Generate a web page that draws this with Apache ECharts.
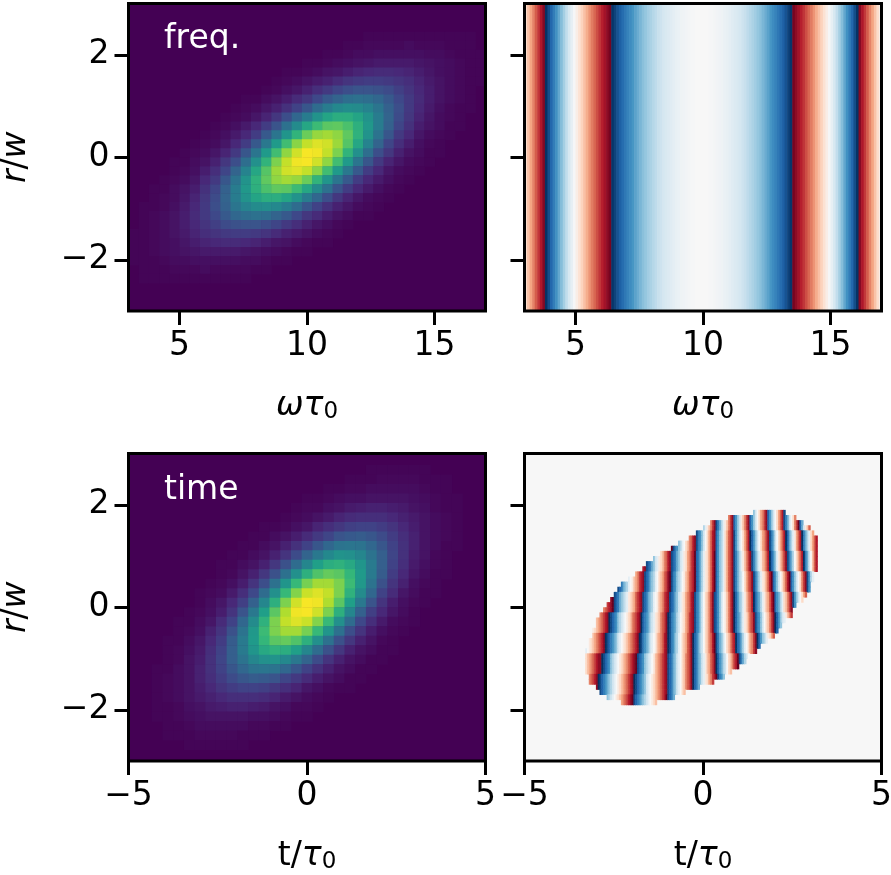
<!DOCTYPE html>
<html>
<head>
<meta charset="utf-8">
<style>html,body{margin:0;padding:0;background:#fff}#chart{width:891px;height:875px}</style>
<script src="https://cdn.jsdelivr.net/npm/echarts@6/dist/echarts.min.js"></script>
</head>
<body>
<div id="chart"></div>
<script>
// tick labels
var freqTicks = [5, 10, 15];
var timeTicks = [-5, 0, 5];
var rTicks = [-2, 0, 2];

// top left: intensity in percent, 30 rows from the top down, columns from 3.2 in steps of 0.4
var freqStart = [0,23,21,19,17,15,14,13,11,10,9,8,7,6,5,4,4,3,2,2,1,1,1,0,0,0,0,1,1,0];
var freqRows = [
[],
[1,1,1,1,1,1,1,1,1,1,1],
[1,1,2,2,2,2,3,2,2,2,1,1,1],
[1,1,2,3,3,4,4,4,4,4,3,3,2,1,1,1],
[1,1,2,3,4,5,6,7,7,7,7,6,5,4,3,2,1,1],
[1,1,2,3,5,6,8,10,11,12,12,11,10,8,6,4,3,2,1,1],
[1,2,3,5,7,9,12,15,17,18,18,17,15,13,10,7,5,3,2,1,1],
[1,2,4,6,9,13,17,21,24,26,26,25,23,19,15,11,8,5,3,2,1],
[1,1,3,5,8,12,16,22,28,32,36,37,36,33,28,22,17,12,8,5,3,2,1],
[1,2,3,6,9,14,20,27,35,42,47,49,48,45,39,31,24,17,11,7,4,2,1,1],
[1,2,3,6,10,16,24,33,42,51,58,62,62,58,51,42,32,23,16,10,6,3,2,1],
[1,2,4,7,11,18,26,37,48,59,68,74,75,71,63,53,42,31,21,14,8,5,3,1,1],
[1,2,4,7,11,18,28,39,52,65,77,84,86,83,75,64,51,38,27,17,11,6,3,2,1],
[1,2,3,6,11,18,28,40,54,69,82,91,95,93,85,73,59,45,32,21,13,8,4,2,1],
[1,2,3,6,10,17,27,39,54,69,83,93,99,98,91,80,65,50,36,24,16,9,5,3,1,1],
[1,1,3,5,9,16,24,36,50,65,80,91,98,99,93,83,69,54,39,27,17,10,6,3,2,1],
[1,2,4,8,13,21,32,45,59,73,85,93,95,91,82,69,54,40,28,18,11,6,3,2,1],
[1,2,3,6,11,17,27,38,51,64,75,83,86,84,77,65,52,39,28,18,11,7,4,2,1],
[1,1,3,5,8,14,21,31,42,53,63,71,75,74,68,59,48,37,26,18,11,7,4,2,1],
[1,2,3,6,10,16,23,32,42,51,58,62,62,58,51,42,33,24,16,10,6,3,2,1],
[1,1,2,4,7,11,17,24,31,39,45,48,49,47,42,35,27,20,14,9,6,3,2,1],
[1,2,3,5,8,12,17,22,28,33,36,37,36,32,28,22,16,12,8,5,3,1,1],
[1,2,3,5,8,11,15,19,23,25,26,26,24,21,17,13,9,6,4,2,1],
[1,1,2,3,5,7,10,13,15,17,18,18,17,15,12,9,7,5,3,2,1],
[1,1,2,3,4,6,8,10,11,12,12,11,10,8,6,5,3,2,1,1],
[1,1,2,3,4,5,6,7,7,7,7,6,5,4,3,2,1,1],
[1,1,1,2,3,3,4,4,4,4,4,3,3,2,1,1],
[1,1,1,2,2,2,3,2,2,2,2,1,1],
[1,1,1,1,1,1,1,1,1,1,1],
[]
];

// top right: spectral phase across the window, columns from 3.05 in steps of 0.1
var specPhase = [
0.18,0.29,0.40,0.50,0.61,0.71,0.81,0.92,-0.99,-0.89,-0.79,-0.70,-0.61,-0.52,-0.43,-0.34,-0.25,-0.17,-0.09,-0.01,
0.07,0.15,0.23,0.30,0.37,0.45,0.52,0.58,0.65,0.72,0.78,0.84,0.90,0.96,-0.98,-0.93,-0.87,-0.82,-0.77,-0.72,
-0.67,-0.63,-0.59,-0.54,-0.50,-0.46,-0.42,-0.39,-0.35,-0.32,-0.29,-0.26,-0.23,-0.21,-0.18,-0.16,-0.14,-0.12,-0.10,-0.08,
-0.07,-0.05,-0.04,-0.03,-0.02,-0.01,-0.01,0,0,0,0,0,-0.01,-0.01,-0.02,-0.03,-0.04,-0.05,-0.07,-0.08,
-0.10,-0.12,-0.14,-0.16,-0.18,-0.21,-0.23,-0.26,-0.29,-0.32,-0.35,-0.39,-0.42,-0.46,-0.50,-0.54,-0.59,-0.63,-0.67,-0.72,
-0.77,-0.82,-0.87,-0.93,-0.98,0.96,0.90,0.84,0.78,0.72,0.65,0.58,0.52,0.45,0.37,0.30,0.23,0.15,0.07,-0.01,
-0.09,-0.17,-0.25,-0.34,-0.43,-0.52,-0.61,-0.70,-0.79,-0.89,-0.99,0.92,0.81,0.71,0.61,0.50,0.40,0.29,0.18,0.07
];

// bottom left: intensity in percent, 30 rows from the top down, columns from -4.8 in steps of 0.3
var timeStart = [22,20,18,16,15,14,12,11,10,9,8,8,7,6,6,5,4,4,3,3,3,2,2,2,2,2,2,3,3,5];
var timeRows = [
[1,1,1,1,1,1],
[1,1,1,2,2,2,2,1,1,1],
[1,1,2,2,3,3,3,3,3,2,1,1],
[1,1,2,3,4,4,5,5,5,5,4,3,2,1,1],
[1,2,2,4,5,7,8,9,9,8,7,5,4,2,1,1],
[1,2,3,5,7,10,12,13,13,13,11,9,7,5,3,2,1],
[1,1,2,4,6,10,13,16,19,20,20,18,15,11,8,5,3,2,1],
[1,1,3,5,8,12,17,21,26,28,29,27,23,18,13,9,5,3,2,1],
[1,1,3,5,9,14,20,27,33,38,39,38,33,27,20,14,9,5,3,1,1],
[1,1,3,5,9,15,23,32,40,47,51,50,46,38,30,21,14,8,5,2,1],
[1,1,3,5,9,16,25,35,46,56,62,64,60,52,41,30,20,13,7,4,2,1],
[1,2,5,9,16,25,37,50,63,72,76,74,66,54,41,29,18,11,6,3,1,1],
[1,2,4,8,15,24,37,52,67,79,86,86,80,68,53,38,25,15,9,4,2,1],
[1,2,3,7,13,22,35,50,67,81,92,95,91,80,64,48,33,20,12,6,3,1,1],
[1,3,6,11,19,31,46,63,80,93,99,98,88,74,56,40,26,15,8,4,2,1],
[1,2,4,8,15,26,40,56,74,88,98,99,93,80,63,46,31,19,11,6,3,1],
[1,1,3,6,12,20,33,48,64,80,91,95,92,81,67,50,35,22,13,7,3,2,1],
[1,2,4,9,15,25,38,53,68,80,86,86,79,67,52,37,24,15,8,4,2,1],
[1,1,3,6,11,18,29,41,54,66,74,76,72,63,50,37,25,16,9,5,2,1],
[1,2,4,7,13,20,30,41,52,60,64,62,56,46,35,25,16,9,5,3,1,1],
[1,2,5,8,14,21,30,38,46,50,51,47,40,32,23,15,9,5,3,1,1],
[1,1,3,5,9,14,20,27,33,38,39,38,33,27,20,14,9,5,3,1,1],
[1,2,3,5,9,13,18,23,27,29,28,26,21,17,12,8,5,3,1,1],
[1,2,3,5,8,11,15,18,20,20,19,16,13,10,6,4,2,1,1],
[1,2,3,5,7,9,11,13,13,13,12,10,7,5,3,2,1],
[1,1,2,4,5,7,8,9,9,8,7,5,4,2,2,1],
[1,1,2,3,4,5,5,5,5,4,4,3,2,1,1],
[1,1,2,3,3,3,3,3,2,2,1,1],
[1,1,1,2,2,2,2,1,1,1],
[1,1,1,1,1,1]
];

// bottom right: temporal phase (x10), one band per four rows of the mask, columns from -3.275 in steps of 0.05
var bandStart = [66,48,32,18,10,4,0,0,2,12];
var phaseBands = [
[-3,-1,1,3,5,7,9,-9,-7,-5,-3,-1,1,3,5,7,9,-8,-6,-4,-2,1,3,5,7,9,-8,-6,-4,-2,0,2,4,5,7,9,-8,-6,-4,-2,0,2,4,6,8,-9,-7,-5,-2,0,2,5,7,10,-8,-5,-2,1,3,6],
[10,-9,-7,-6,-4,-3,-1,0,2,3,5,6,8,9,-9,-7,-6,-4,-2,0,2,4,6,8,9,-8,-6,-4,-3,-1,2,4,6,7,9,-9,-6,-4,-2,0,2,4,6,8,-10,-8,-6,-4,-2,0,2,4,5,7,9,-9,-7,-5,-2,0,2,4,6,8,-10,-8,-5,-3,-1,1,4,6,8,-10,-7,-5,-3,-1,2,4,6,8],
[8,9,-9,-8,-7,-5,-4,-2,-1,1,2,3,5,6,8,9,-9,-8,-7,-5,-4,-2,-1,1,2,4,5,7,8,10,-8,-7,-5,-3,-1,1,2,4,6,8,10,-8,-6,-4,-3,-1,2,4,6,7,9,-9,-7,-5,-3,-1,1,3,5,7,9,-9,-7,-5,-3,-1,1,3,4,6,8,-10,-8,-6,-4,-1,1,3,5,7,9,-9,-7,-5,-3,0,2,4,6,8,-10,-7,-5,-2,0,3,6,8],
[-9,-8,-7,-5,-4,-3,-1,0,1,3,4,5,7,8,9,-9,-8,-7,-5,-4,-3,-1,0,2,3,4,6,7,9,10,-9,-7,-6,-4,-3,-2,0,1,3,4,6,7,8,10,-8,-7,-5,-3,-1,1,2,4,6,8,10,-8,-6,-4,-3,-1,2,4,6,7,9,-9,-7,-5,-3,-2,0,2,4,6,7,9,-9,-7,-5,-3,-1,1,2,4,6,8,10,-8,-6,-4,-2,0,2,4,6,8,10,-8,-6,-4,-2,0,2,5,7,9,-9,-6,-3,-1,2,5],
[5,6,7,8,9,10,-9,-8,-7,-5,-4,-3,-2,-1,1,2,3,4,6,7,8,9,-9,-8,-7,-5,-4,-3,-1,0,1,3,4,5,7,8,9,-9,-8,-7,-5,-4,-2,-1,1,2,4,5,6,8,9,-9,-7,-6,-4,-2,0,2,3,5,7,9,-9,-8,-6,-4,-2,0,1,3,5,7,9,-10,-8,-6,-4,-3,-1,1,3,5,6,8,-10,-8,-6,-5,-3,-1,1,3,4,6,8,10,-8,-6,-5,-3,-1,2,3,5,7,9,-9,-6,-4,-2,0,2,4,6],
[1,2,3,4,5,6,7,8,9,-10,-9,-8,-7,-6,-4,-3,-2,-1,0,1,2,3,5,6,7,8,9,-10,-8,-7,-6,-5,-3,-2,-1,1,2,3,5,6,7,9,-10,-9,-7,-6,-5,-3,-2,0,1,2,4,5,7,8,9,-9,-7,-6,-4,-2,0,2,3,5,7,9,-9,-8,-6,-4,-2,0,1,3,5,7,9,-10,-8,-6,-5,-3,-1,1,2,4,6,7,9,-9,-7,-6,-4,-2,0,2,3,5,7,9,-10,-8,-6,-4,-2,-1,1,3,5,7],
[-1,0,1,2,3,4,5,6,7,8,9,-10,-9,-8,-7,-6,-5,-4,-2,-1,0,1,2,3,4,5,6,7,8,9,-10,-9,-7,-6,-5,-4,-2,-1,0,1,3,4,5,6,8,9,-10,-9,-7,-6,-4,-3,-1,0,2,3,4,6,7,9,-10,-8,-7,-5,-3,-2,0,2,3,5,6,8,10,-9,-7,-5,-4,-2,0,2,3,5,7,8,-10,-8,-7,-5,-3,-1,0,2,4,5,7,9,-10,-8,-6,-4,-3,-1,1,2,4,6],
[2,3,4,5,6,7,8,9,9,-10,-9,-8,-7,-6,-4,-3,-2,-1,0,1,2,3,4,5,6,7,8,9,10,-9,-8,-7,-6,-4,-3,-2,-1,0,1,3,4,5,6,7,8,9,-9,-8,-7,-5,-4,-2,-1,0,2,3,5,6,7,9,-10,-8,-7,-5,-4,-2,-1,1,3,4,6,7,9,-10,-8,-6,-5,-3,-2,0,2,3,5,7,8,10,-9,-7,-5,-3,-2,0],
[5,6,7,8,9,-10,-9,-8,-7,-6,-5,-4,-3,-2,-1,0,1,2,3,4,5,6,7,8,9,-10,-9,-8,-7,-6,-5,-4,-2,-1,0,1,2,3,4,5,6,7,8,9,-9,-8,-7,-5,-4,-2,-1,0,2,3,5,6,7,9,-10,-8,-7,-5,-4,-2,-1,1,2,4,5,7,8,10,-9,-7,-6,-4],
[-4,-3,-2,-1,0,1,2,3,4,5,6,7,8,9,10,-9,-8,-7,-6,-5,-4,-3,-2,-1,0,1,2,3,4,5,6,7,8,10,-9,-8,-7,-5]
];
// first and last column drawn on each row (r=1.85 down to -1.85), the rest of the panel is blank
var maskFirst = [94,80,70,66,62,58,52,48,42,38,34,32,28,24,20,18,16,14,12,10,8,6,6,4,4,2,2,0,0,0,0,0,2,2,6,8,12,20];
var maskLast = [111,117,121,125,127,129,129,129,129,129,129,129,127,127,125,125,123,121,117,115,115,111,109,107,105,101,97,95,91,89,85,81,77,71,63,55,49,39];

var viridis = ['#440154','#482878','#3e4989','#31688e','#26828e','#1f9e89','#35b779','#6ece58','#b5de2b','#fde725'];
var rdbu = ['#053061','#2166ac','#4393c3','#92c5de','#d1e5f0','#f7f7f7','#fddbc7','#f4a582','#d6604d','#b2182b','#67001f'];

var fontName = 'DejaVu Sans';
var labelSize = 33;
var colX = [128.5, 524.5];
var rowY = [3.5, 453.5];
var panelW = 357;
var panelH = 307.5;
var freqRowStep = 0.175;
var timeRowStep = 0.185;

function gridCells(rows, starts, x0, dx, dy) {
    var out = [];
    for (var i = 0; i < rows.length; i++) {
        for (var j = 0; j < rows[i].length; j++) {
            out.push([x0 + (starts[i] + j) * dx, (14.5 - i) * dy, rows[i][j]]);
        }
    }
    return out;
}

function specCells() {
    var out = [];
    for (var j = 0; j < specPhase.length; j++) {
        out.push([3.05 + j * 0.1, 0, specPhase[j]]);
    }
    return out;
}

function phaseCells() {
    var out = [];
    for (var i = 0; i < maskFirst.length; i++) {
        var b = Math.floor(i / 4);
        for (var j = maskFirst[i]; j <= maskLast[i]; j++) {
            out.push([-3.275 + j * 0.05, 1.85 - i * 0.1, phaseBands[b][j - bandStart[b]]]);
        }
    }
    return out;
}

function cellRender(w, h) {
    return function (params, api) {
        var a = api.coord([api.value(0) - w / 2, api.value(1) + h / 2]);
        var b = api.coord([api.value(0) + w / 2, api.value(1) - h / 2]);
        return {
            type: 'rect',
            shape: {x: a[0], y: a[1], width: b[0] - a[0] + 0.6, height: b[1] - a[1] + 0.6},
            style: {fill: api.visual('color')}
        };
    };
}

function cellSeries(idx, data, w, h) {
    return {
        type: 'custom',
        xAxisIndex: idx,
        yAxisIndex: idx,
        coordinateSystem: 'cartesian2d',
        renderItem: cellRender(w, h),
        encode: {x: 0, y: 1},
        clip: true,
        silent: true,
        animation: false,
        data: data
    };
}

function minusText(v) {
    return String(v).replace('-', '\u2212');
}

var nameRich = {
    m: {fontFamily: fontName, fontSize: labelSize, fontStyle: 'italic', color: '#000'},
    u: {fontFamily: fontName, fontSize: labelSize, color: '#000'},
    s: {fontFamily: fontName, fontSize: 23, color: '#000', verticalAlign: 'bottom', padding: [12, 0, 0, 0]}
};

function xAxisFor(idx, min, max, ticks, name) {
    return {
        type: 'value', gridIndex: idx, min: min, max: max,
        name: name, nameLocation: 'middle', nameGap: 78,
        nameTextStyle: {rich: nameRich},
        axisLine: {show: false, onZero: false},
        splitLine: {show: false},
        axisTick: {show: true, length: 14, lineStyle: {width: 3, color: '#000'}, customValues: ticks},
        axisLabel: {
            customValues: ticks, margin: 19, color: '#000',
            fontFamily: fontName, fontSize: labelSize, formatter: minusText
        }
    };
}

function yAxisFor(idx, labelled) {
    return {
        type: 'value', gridIndex: idx, min: -3, max: 3,
        name: labelled ? '{m|r}{u|/}{m|w}' : '', nameLocation: 'middle', nameGap: 96,
        nameTextStyle: {rich: nameRich},
        axisLine: {show: false, onZero: false},
        splitLine: {show: false},
        axisTick: {show: true, length: 14, lineStyle: {width: 3, color: '#000'}, customValues: rTicks},
        axisLabel: {
            show: labelled, customValues: rTicks, margin: 19, color: '#000',
            fontFamily: fontName, fontSize: labelSize, formatter: minusText
        }
    };
}

function gridFor(c, r, bg) {
    return {
        left: colX[c], top: rowY[r], width: panelW, height: panelH,
        outerBoundsMode: 'none', show: true, backgroundColor: bg, borderWidth: 0
    };
}

function frame(c, r) {
    return {
        type: 'rect', z: 100, silent: true,
        shape: {x: colX[c], y: rowY[r], width: panelW, height: panelH},
        style: {fill: 'none', stroke: '#000', lineWidth: 3}
    };
}

function panelText(txt, y) {
    return {
        type: 'text', z: 100, silent: true, x: 164, y: y,
        style: {text: txt, fill: '#fff', font: labelSize + 'px "' + fontName + '"', textVerticalAlign: 'middle'}
    };
}

var chart = echarts.init(document.getElementById('chart'), null, {renderer: 'canvas'});
chart.setOption({
    animation: false,
    backgroundColor: '#fff',
    grid: [gridFor(0, 0, viridis[0]), gridFor(1, 0, rdbu[5]), gridFor(0, 1, viridis[0]), gridFor(1, 1, rdbu[5])],
    xAxis: [
        xAxisFor(0, 3, 17, freqTicks, '{m|\u03c9\u03c4}{s|0}'),
        xAxisFor(1, 3, 17, freqTicks, '{m|\u03c9\u03c4}{s|0}'),
        xAxisFor(2, -5, 5, timeTicks, '{u|t/}{m|\u03c4}{s|0}'),
        xAxisFor(3, -5, 5, timeTicks, '{u|t/}{m|\u03c4}{s|0}')
    ],
    yAxis: [yAxisFor(0, true), yAxisFor(1, false), yAxisFor(2, true), yAxisFor(3, false)],
    visualMap: [
        {show: false, type: 'continuous', seriesIndex: [0, 2], dimension: 2, min: 0, max: 100, inRange: {color: viridis}},
        {show: false, type: 'continuous', seriesIndex: 1, dimension: 2, min: -1, max: 1, inRange: {color: rdbu}},
        {show: false, type: 'continuous', seriesIndex: 3, dimension: 2, min: -10, max: 10, inRange: {color: rdbu}}
    ],
    series: [
        cellSeries(0, gridCells(freqRows, freqStart, 3.2, 0.4, freqRowStep), 0.4, freqRowStep),
        cellSeries(1, specCells(), 0.1, 6),
        cellSeries(2, gridCells(timeRows, timeStart, -4.8, 0.3, timeRowStep), 0.3, timeRowStep),
        cellSeries(3, phaseCells(), 0.05, 0.1)
    ],
    graphic: [
        frame(0, 0), frame(1, 0), frame(0, 1), frame(1, 1),
        panelText('freq.', 39), panelText('time', 490)
    ]
});
</script>
</body>
</html>
